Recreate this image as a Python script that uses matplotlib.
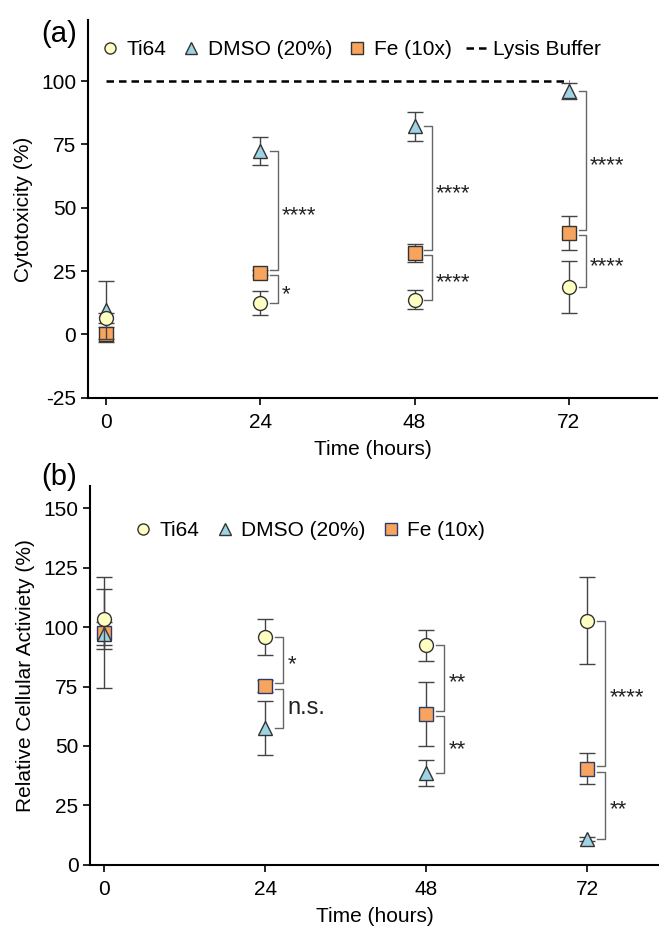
import matplotlib
matplotlib.use("Agg")
import matplotlib.pyplot as plt
from matplotlib.lines import Line2D

plt.rcParams["font.family"] = ["Liberation Sans", "DejaVu Sans"]
plt.rcParams["font.size"] = 15
plt.rcParams["axes.unicode_minus"] = False

# time points (hours)
times = [0, 24, 48, 72]

# (a) cytotoxicity, mean and error
cyto_ti64 = [6.6, 12.4, 13.7, 18.7]
cyto_ti64_err = [2.0, 4.6, 3.8, 10.4]
cyto_dmso = [9.5, 72.3, 82.1, 96.1]
cyto_dmso_err = [11.5, 5.6, 5.6, 3.2]
cyto_fe = [0.0, 24.3, 32.2, 40.1]
cyto_fe_err = [3.0, 1.0, 3.6, 6.8]
lysis_level = 100

# (b) relative cellular activity, mean and error
act_ti64 = [103.3, 95.8, 92.4, 102.7]
act_ti64_err = [12.7, 7.6, 6.5, 18.4]
act_dmso = [97.3, 57.6, 38.6, 10.8]
act_dmso_err = [5.0, 11.5, 5.6, 1.0]
act_fe = [97.6, 75.1, 63.6, 40.4]
act_fe_err = [23.4, 2.5, 13.5, 6.5]

# significance labels per time point (24, 48, 72): upper pair, lower pair
sig_a_upper = ["****", "****", "****"]   # Fe vs DMSO
sig_a_lower = ["*", "****", "****"]      # Ti64 vs Fe
sig_b_upper = ["*", "**", "****"]        # Ti64 vs Fe
sig_b_lower = ["n.s.", "**", "**"]       # Fe vs DMSO

C_TI = "#FFFFC2"
C_DMSO = "#9ED3E3"
C_FE = "#F7A55E"
EDGE = "#333333"
ERR = "#444444"
BRK = "#666666"


def plot_series(ax, y, yerr, marker, color, ms, z, edge=EDGE):
    ax.errorbar(times, y, yerr=yerr, fmt=marker, ms=ms, mfc=color, mec=edge,
                mew=1.0, ecolor=ERR, elinewidth=1.0, capsize=6, capthick=1.0,
                zorder=z, clip_on=False)


def bracket(ax, t, y_top, y_bot, label, off=2.7, tick=1.2, fs=16, dy=0):
    x = t + off
    ax.plot([x - tick, x, x, x - tick], [y_top, y_top, y_bot, y_bot],
            color=BRK, lw=1.0, zorder=1)
    ax.text(x + 0.6, (y_top + y_bot) / 2 + dy, label, fontsize=fs,
            va="center", ha="left", color="#222222")


def style_axis(ax):
    for s in ["top", "right"]:
        ax.spines[s].set_visible(False)
    for s in ["left", "bottom"]:
        ax.spines[s].set_linewidth(1.5)
    ax.tick_params(direction="out", length=5, width=1.2, labelsize=15)
    ax.tick_params(axis="x", pad=6)
    ax.set_xticks(times)
    ax.set_xlabel("Time (hours)", fontsize=15, labelpad=6)


fig = plt.figure(figsize=(6.59, 9.26), dpi=100)

# ---- panel (a)
ax1 = fig.add_axes([0.1335, 0.5705, 0.8635, 0.4075])
plot_series(ax1, cyto_fe, cyto_fe_err, "s", C_FE, 9.5, 3)
plot_series(ax1, cyto_dmso, cyto_dmso_err, "^", C_DMSO, 10.5, 4)
plot_series(ax1, cyto_ti64, cyto_ti64_err, "o", C_TI, 10, 5)
ax1.plot([times[0], times[-1]], [lysis_level, lysis_level], ls=(0, (3, 2)),
         color="black", lw=1.8, zorder=2)
ax1.set_xlim(-2.8, 85.7)
ax1.set_ylim(-25, 124)
ax1.set_yticks([-25, 0, 25, 50, 75, 100])
ax1.set_ylabel("Cytotoxicity (%)", fontsize=15, labelpad=6)
style_axis(ax1)

g = 1.0
for i, t in enumerate(times[1:], start=1):
    bracket(ax1, t, cyto_dmso[i], cyto_fe[i] + g, sig_a_upper[i - 1], dy=-2)
    bracket(ax1, t, cyto_fe[i] - g, cyto_ti64[i], sig_a_lower[i - 1], dy=-2)

handles_a = [
    Line2D([], [], marker="o", ls="", ms=8, mfc=C_TI, mec=EDGE),
    Line2D([], [], marker="^", ls="", ms=8, mfc=C_DMSO, mec=EDGE),
    Line2D([], [], marker="s", ls="", ms=8, mfc=C_FE, mec=EDGE),
    Line2D([], [], ls=(0, (3, 2)), color="black", lw=1.8),
]
ax1.legend(handles_a, ["Ti64", "DMSO (20%)", "Fe (10x)", "Lysis Buffer"],
           ncol=4, frameon=False, loc="center left",
           bbox_to_anchor=(0.005, 0.923), handlelength=1.0, handletextpad=0.3,
           columnspacing=0.7, fontsize=15, borderaxespad=0)
fig.text(0.062, 0.978, "(a)", fontsize=21, va="top", ha="left")

# ---- panel (b)
ax2 = fig.add_axes([0.137, 0.0663, 0.863, 0.409])
plot_series(ax2, act_fe, act_fe_err, "s", C_FE, 9.5, 3, edge="#2E3A6B")
plot_series(ax2, act_dmso, act_dmso_err, "^", C_DMSO, 10.5, 4)
plot_series(ax2, act_ti64, act_ti64_err, "o", C_TI, 10, 5)
ax2.set_xlim(-2.06, 82.7)
ax2.set_ylim(0, 159.5)
ax2.set_yticks([0, 25, 50, 75, 100, 125, 150])
ax2.set_ylabel("Relative Cellular Activiety (%)", fontsize=15, labelpad=6)
style_axis(ax2)

g = 1.2
for i, t in enumerate(times[1:], start=1):
    bracket(ax2, t, act_ti64[i], act_fe[i] + g, sig_b_upper[i - 1], dy=-2)
    fs = 17 if sig_b_lower[i - 1] == "n.s." else 16
    dy = 0 if sig_b_lower[i - 1] == "n.s." else -2
    bracket(ax2, t, act_fe[i] - g, act_dmso[i], sig_b_lower[i - 1], fs=fs, dy=dy)

handles_b = [
    Line2D([], [], marker="o", ls="", ms=8, mfc=C_TI, mec=EDGE),
    Line2D([], [], marker="^", ls="", ms=8, mfc=C_DMSO, mec=EDGE),
    Line2D([], [], marker="s", ls="", ms=8, mfc=C_FE, mec="#2E3A6B"),
]
ax2.legend(handles_b, ["Ti64", "DMSO (20%)", "Fe (10x)"],
           ncol=3, frameon=False, loc="center left",
           bbox_to_anchor=(0.06, 0.882), handlelength=1.0, handletextpad=0.3,
           columnspacing=0.7, fontsize=15, borderaxespad=0)
fig.text(0.062, 0.500, "(b)", fontsize=21, va="top", ha="left")

fig.savefig("out.png", dpi=100)
